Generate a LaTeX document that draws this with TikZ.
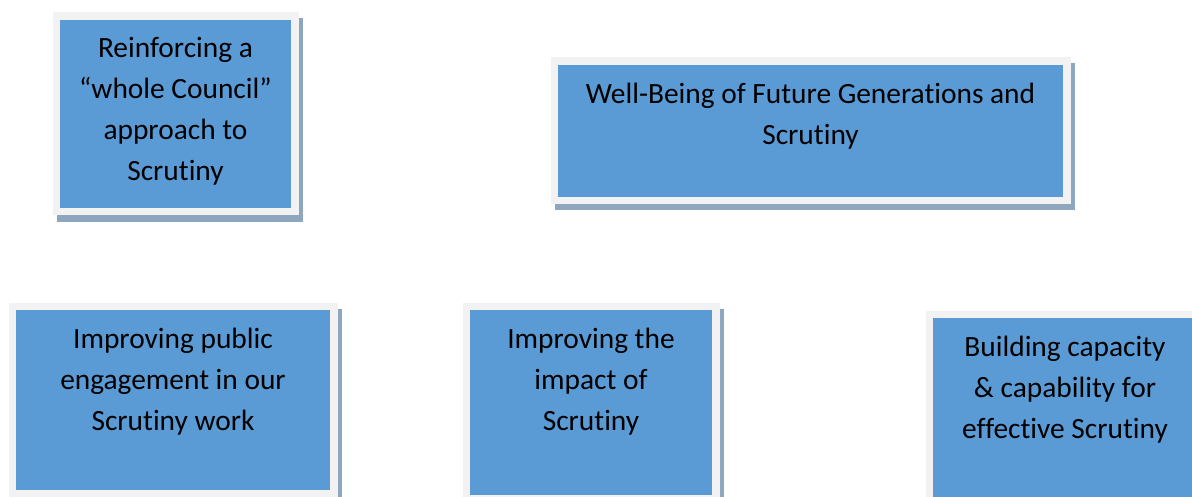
\documentclass[tikz,border=0pt]{standalone}
\usepackage{fontspec}
\setmainfont{Carlito}[Ligatures={NoCommon}]
\usetikzlibrary{shadows}
\definecolor{boxblue}{RGB}{91,155,213}
\definecolor{boxframe}{RGB}{242,242,242}
\definecolor{boxshadow}{RGB}{143,167,190}
\tikzset{
  aimbox/.style={rectangle, fill=boxblue, inner sep=0pt,
    general shadow={draw=boxshadow, line width=7.5pt, shadow xshift=2pt, shadow yshift=-3pt},
    preaction={draw=boxframe, line width=7.5pt}},
  aimtext/.style={anchor=north, inner sep=0pt, align=center,
    font=\fontsize{14.7}{20.5}\selectfont, yshift=-8.8pt}
}
\begin{document}
\begin{tikzpicture}[x=0.5pt, y=-0.5pt]
				\useasboundingbox (0,0) rectangle (1192,497);
				% top row
				\node[aimbox, minimum width=115.5pt, minimum height=94pt] (whole) at (175.5,114) {};
				\node[aimbox, minimum width=252.5pt, minimum height=66pt] (wellbeing) at (810.5,131) {};
				% bottom row
				\node[aimbox, minimum width=157pt, minimum height=90pt] (public) at (173,400) {};
				\node[aimbox, minimum width=121pt, minimum height=92.5pt] (impact) at (591,402.5) {};
				\node[aimbox, minimum width=132pt, minimum height=92.5pt] (capacity) at (1065,410.5) {};
				% texts
				\node[aimtext] (wholetext) at (whole.north) {Reinforcing a\\“whole Council”\\approach to\\Scrutiny};
				\node[aimtext] (wellbeingtext) at (wellbeing.north) {Well-Being of Future Generations and\\Scrutiny};
				\node[aimtext] (publictext) at (public.north) {Improving public\\engagement in our\\Scrutiny work};
				\node[aimtext] (impacttext) at (impact.north) {Improving the\\impact of\\Scrutiny};
				\node[aimtext] (capacitytext) at (capacity.north) {Building capacity\\\& capability for\\effective Scrutiny};
\end{tikzpicture}
\end{document}
